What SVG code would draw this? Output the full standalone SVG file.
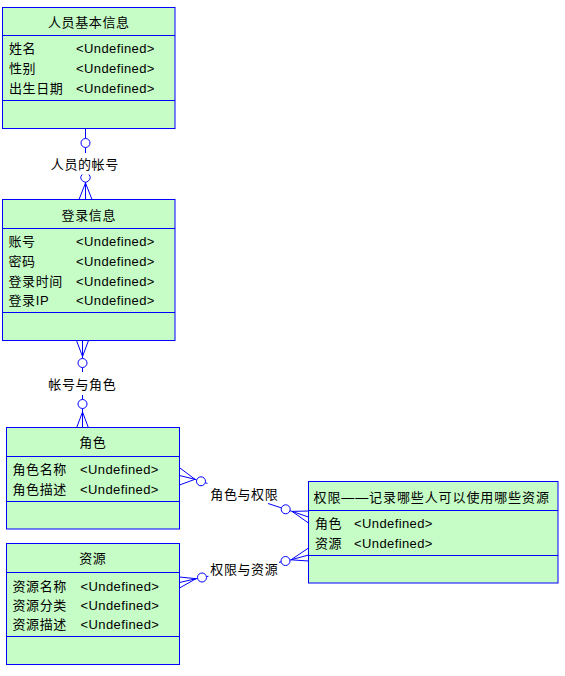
<svg xmlns="http://www.w3.org/2000/svg" width="565" height="676" viewBox="0 0 565 676">
<style>
text{font-family:"Liberation Sans","Noto Sans CJK SC",sans-serif;font-size:13px;fill:#000;letter-spacing:0.6px}
.t{text-anchor:middle}
.box{fill:#c6fcc6;stroke:#0000ff;stroke-width:1}
.sep{stroke:#0000ff;stroke-width:1;fill:none}
.c{stroke:#0000ff;stroke-width:1;fill:none}
.o{stroke:#0000ff;stroke-width:1;fill:#fff}
</style>
<rect width="565" height="676" fill="#fff"/>
<g id="person">
<rect class="box" x="2.5" y="7.5" width="172.5" height="121"/>
<path class="sep" d="M2.5 35.5H175M2.5 100.5H175"/>
<text class="t" x="88.8" y="26.5">人员基本信息</text>
<text x="9" y="52.5">姓名</text><text x="76" y="52.5" textLength="79">&lt;Undefined&gt;</text>
<text x="9" y="72.5">性别</text><text x="76" y="72.5" textLength="79">&lt;Undefined&gt;</text>
<text x="9" y="92.5">出生日期</text><text x="76" y="92.5" textLength="79">&lt;Undefined&gt;</text>
</g>
<g id="login">
<rect class="box" x="2.5" y="199.5" width="172.5" height="141"/>
<path class="sep" d="M2.5 228.5H175M2.5 312.5H175"/>
<text class="t" x="88.8" y="219.5">登录信息</text>
<text x="8.5" y="246">账号</text><text x="76" y="246" textLength="79">&lt;Undefined&gt;</text>
<text x="8.5" y="265.5">密码</text><text x="76" y="265.5" textLength="79">&lt;Undefined&gt;</text>
<text x="8.5" y="285.5">登录时间</text><text x="76" y="285.5" textLength="79">&lt;Undefined&gt;</text>
<text x="8.5" y="304.5">登录IP</text><text x="76" y="304.5" textLength="79">&lt;Undefined&gt;</text>
</g>
<g id="role">
<rect class="box" x="6.5" y="427.5" width="173" height="101.5"/>
<path class="sep" d="M6.5 456.5H179.5M6.5 501.5H179.5"/>
<text class="t" x="92.8" y="447">角色</text>
<text x="12.5" y="474">角色名称</text><text x="80" y="474" textLength="79">&lt;Undefined&gt;</text>
<text x="12.5" y="494">角色描述</text><text x="80" y="494" textLength="79">&lt;Undefined&gt;</text>
</g>
<g id="resource">
<rect class="box" x="6.5" y="543.5" width="173" height="121"/>
<path class="sep" d="M6.5 572.5H179.5M6.5 636.5H179.5"/>
<text class="t" x="92.8" y="563">资源</text>
<text x="12.5" y="590.5">资源名称</text><text x="80.5" y="590.5" textLength="79">&lt;Undefined&gt;</text>
<text x="12.5" y="609.5">资源分类</text><text x="80.5" y="609.5" textLength="79">&lt;Undefined&gt;</text>
<text x="12.5" y="629">资源描述</text><text x="80.5" y="629" textLength="79">&lt;Undefined&gt;</text>
</g>
<g id="permission">
<rect class="box" x="308.5" y="481.5" width="249.5" height="101.5"/>
<path class="sep" d="M308.5 510.5H558M308.5 555.5H558"/>
<text x="313.5" y="502" textLength="236">权限——记录哪些人可以使用哪些资源</text>
<text x="315" y="528">角色</text><text x="354" y="528" textLength="79">&lt;Undefined&gt;</text>
<text x="315" y="548">资源</text><text x="354" y="548" textLength="79">&lt;Undefined&gt;</text>
</g>
<g id="connectors">
<path class="c" d="M85.5 128.5V138.5M85.5 147.5V153M85.5 182V183M79 199.5L85.5 183L92 199.5M85.5 183V199.5"/>
<circle class="o" cx="85.5" cy="143" r="4.5"/>
<path class="c" d="M82.15 174.5A4.5 4.5 0 1 0 88.85 174.5"/>
<path class="c" d="M76.5 340.5L82.5 356.5L88.5 340.5M82.5 340.5V358.5M82.5 367.5V372M82.5 395V399.5M82.5 408.5V428M76.5 428L82.5 412L88.5 428"/>
<circle class="o" cx="82.5" cy="363" r="4.5"/>
<circle class="o" cx="82.5" cy="404" r="4.5"/>
<path class="c" d="M179.5 467.7L195 479.3M179.5 475.5L195 479.3M179.5 485L195 479.3M195 479.3L196.7 479.9M205.3 482.7L207.5 483.4M268 503.5L281.4 507.9M290 510.7L292 511.4M292 511.4L308.5 511M292 511.4L308.5 517M292 511.4L308.5 523"/>
<circle class="o" cx="201" cy="481.3" r="4.5"/>
<circle class="o" cx="285.7" cy="509.3" r="4.5"/>
<path class="c" d="M179.5 577L196 578.7M179.5 582.5L196 578.7M179.5 588L196 578.7M196 578.7L197.6 578.4M206.4 576.6L208.5 576.2M279 562.3L281.1 561.9M289.9 560.1L291 559.8M291 559.8L308.5 548M291 559.8L308.5 555M291 559.8L308.5 561"/>
<circle class="o" cx="202" cy="577.5" r="4.5"/>
<circle class="o" cx="285.5" cy="561" r="4.5"/>
</g>
<g id="labels">
<text class="t" x="84.8" y="169">人员的帐号</text>
<text class="t" x="82.3" y="388.5">帐号与角色</text>
<text class="t" x="244.3" y="499">角色与权限</text>
<text class="t" x="244.3" y="574">权限与资源</text>
</g>
</svg>
